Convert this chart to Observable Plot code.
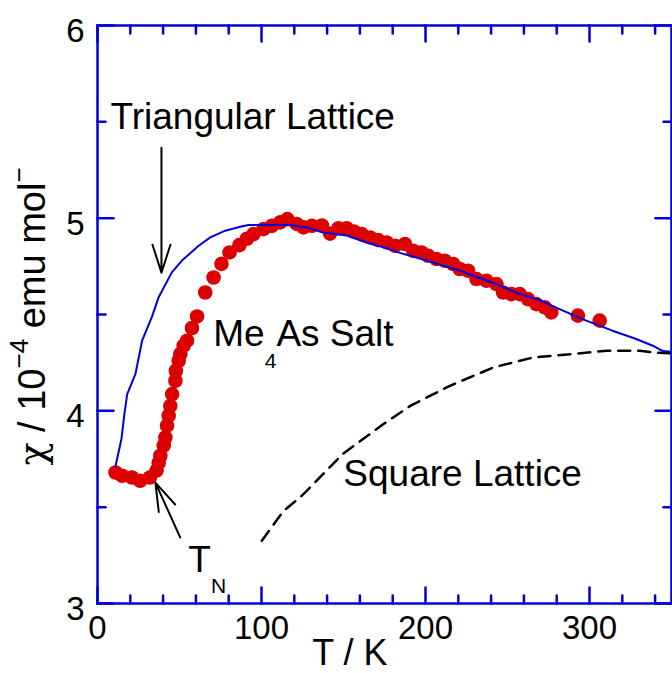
<!DOCTYPE html>
<html><head><meta charset="utf-8">
<script src="https://cdn.jsdelivr.net/npm/d3@7"></script>
<script src="https://cdn.jsdelivr.net/npm/@observablehq/plot@0.6"></script>
<style>body{margin:0;background:#fff} #chart svg{display:block}</style>
</head><body><div id="chart"></div>
<script>
// Me4As salt (red dots): temperature T (K) and chi (1e-4 emu/mol)
const saltT = [11,15,21,26,32,36,37.3,38.3,40.4,41.4,42.4,43.4,44.4,45.5,47.5,47.8,49.5,50.5,52.5,54.6,57.6,60.7,65.7,70.8,75.6,80.5,86.5,91.1,95.1,101.2,106.3,111.4,115.8,121.5,125.6,130.7,136.8,141.8,146.9,152,156.5,161.1,166.2,171.2,176.3,181.4,187.5,192.5,197.6,201.6,206.7,211.8,216.9,220.9,226,231.1,237.2,243.3,247.3,252.4,257.5,262.5,267.6,272.7,276.7,292.9,306.2];
const saltChi = [3.68,3.663,3.654,3.637,3.654,3.69,3.73,3.767,3.82,3.862,3.923,3.975,4.026,4.087,4.156,4.208,4.26,4.295,4.338,4.364,4.43,4.49,4.614,4.692,4.763,4.822,4.86,4.893,4.917,4.943,4.96,4.978,4.995,4.97,4.952,4.96,4.962,4.92,4.948,4.948,4.93,4.917,4.9,4.886,4.874,4.857,4.866,4.831,4.822,4.805,4.788,4.779,4.762,4.736,4.727,4.684,4.675,4.658,4.614,4.606,4.606,4.58,4.554,4.537,4.511,4.494,4.468];

// Triangular lattice model (blue line)
const triT = [10.9,14.6,16.4,18.1,23.1,27.2,33.3,37.3,45.4,51.5,61.7,68.8,77.9,87,92,117,127.6,137.6,152,164,174,184.4,200.7,221,243,257.5,269.6,283.8,298,314,328.5,338.6,344.7,352];
const triChi = [3.71,3.854,3.983,4.087,4.19,4.364,4.49,4.59,4.72,4.78,4.857,4.9,4.935,4.955,4.964,4.964,4.952,4.925,4.91,4.874,4.85,4.82,4.78,4.727,4.658,4.606,4.575,4.52,4.468,4.416,4.373,4.338,4.31,4.305];

// Square lattice model (black dashed line)
const sqT = [100.2,113.4,123.4,127.6,149.5,175,191,214.9,241.3,265.6,289.9,310.2,330.5,340,350];
const sqChi = [3.326,3.48,3.55,3.585,3.776,3.935,4.027,4.13,4.225,4.277,4.295,4.312,4.312,4.302,4.298];

// Axis ticks and labels
const xMajorTicks = [0,100,200,300];
const xMinorTicks = [20,40,60,80,120,140,160,180,220,240,260,280,320,340];
const yMajorTicks = [3,4,5,6];
const yMinorTicks = [3.5,4.5,5.5];
const xTickLabels = ["0","100","200","300"];
const yTickLabels = ["3","4","5","6"];
const xTitle = "T / K";
const yTitle = "χ / 10-4 emu mol-";

// Annotation texts and anchor positions (data units)
const noteTexts = ["Triangular Lattice","Me4As Salt","Square Lattice","TN"];
const noteT = [7.9,70.6,149.9,55.4];
const noteChi = [5.464,4.338,3.611,3.161];
// Arrows: tip position (data), length (px), rotation (deg)
const arrowTipT = [39,35.3];
const arrowTipChi = [4.717,3.627];
const arrowLen = [125,60];
const arrowRot = [180,-24.4];

const BLUE = "#0000dd", RED = "#dd0000";
const FONT = "Liberation Sans, Arial, Helvetica, sans-serif";

const salt = saltT.map((T,i)=>({T, chi: saltChi[i]}));
const tri = triT.map((T,i)=>({T, chi: triChi[i]}));
const sq = sqT.map((T,i)=>({T, chi: sqChi[i]}));
const notes = noteTexts.map((t,i)=>({t, T: noteT[i], chi: noteChi[i]}));
const arrows = arrowTipT.map((T,i)=>({T, chi: arrowTipChi[i], len: arrowLen[i], rot: arrowRot[i]}));

const lineShape = {draw(ctx, l){ ctx.moveTo(0,0); ctx.lineTo(0,-l); }};
const arrowShape = {draw(ctx, l){ ctx.moveTo(0,0); ctx.lineTo(0,-l); ctx.moveTo(-9, 28-l); ctx.lineTo(0,-l); ctx.lineTo(9, 28-l); }};

const tickMarks = (arr, len) => [
  Plot.vector(arr.x, {x: d=>d, y: 3, length: len, rotate: 0, anchor: "start", shape: lineShape, stroke: BLUE, strokeWidth: 2.5}),
  Plot.vector(arr.x, {x: d=>d, y: 6, length: len, rotate: 180, anchor: "start", shape: lineShape, stroke: BLUE, strokeWidth: 2.5}),
  Plot.vector(arr.y, {x: 0, y: d=>d, length: len, rotate: 90, anchor: "start", shape: lineShape, stroke: BLUE, strokeWidth: 2.5}),
  Plot.vector(arr.y, {x: 350, y: d=>d, length: len, rotate: -90, anchor: "start", shape: lineShape, stroke: BLUE, strokeWidth: 2.5})
];

const chart = Plot.plot({
  width: 672, height: 673,
  marginLeft: 97, marginRight: 1, marginTop: 25, marginBottom: 70,
  style: {fontFamily: FONT, background: "white", overflow: "visible"},
  x: {domain: [0,350], axis: null},
  y: {domain: [3,6], axis: null},
  length: {type: "identity"},
  marks: [
    Plot.line(sq, {x: "T", y: "chi", stroke: "black", strokeWidth: 2.5, strokeDasharray: "12,8", clip: true}),
    Plot.dot(salt, {x: "T", y: "chi", r: 7.3, fill: RED, stroke: "none"}),
    Plot.line(tri, {x: "T", y: "chi", stroke: BLUE, strokeWidth: 2, clip: true}),
    ...tickMarks({x: xMajorTicks, y: yMajorTicks}, 16),
    ...tickMarks({x: xMinorTicks, y: yMinorTicks}, 8),
    Plot.frame({stroke: BLUE, strokeWidth: 2.5}),
    Plot.text(xTickLabels, {x: d=>+d, y: 3, dy: 25, text: d=>d, fontSize: 33, fill: "black", textAnchor: "middle", lineAnchor: "middle"}),
    Plot.text(yTickLabels, {x: 0, y: d=>+d, dx: -13, dy: 6, text: d=>d, fontSize: 33, fill: "black", textAnchor: "end", lineAnchor: "middle"}),
    Plot.text([xTitle], {x: 153.9, y: 2.682, text: d=>d, fontSize: 36, fill: "black", textAnchor: "middle", lineAnchor: "bottom"}),
    Plot.text([yTitle], {x: -32.3, y: 4.49, text: d=>d, rotate: -90, fontSize: 38, fill: "black", textAnchor: "middle", lineAnchor: "bottom"}),
    Plot.text(notes, {x: "T", y: "chi", text: "t", fontSize: 37, fill: "black", textAnchor: "start", lineAnchor: "bottom"}),
    Plot.vector(arrows, {x: "T", y: "chi", length: "len", rotate: "rot", anchor: "end", shape: arrowShape, stroke: "black", strokeWidth: 2})
  ]
});

// rich text: sub/superscripts
function rich(content, parts){
  d3.select(chart).selectAll("text").filter(function(){ return this.textContent === content; }).each(function(){
    const el = d3.select(this); el.text("");
    parts.forEach(p => {
      const ts = el.append("tspan").text(p.t);
      if (p.dy) ts.attr("dy", p.dy);
      if (p.fs) ts.attr("font-size", p.fs);
      if (p.ff) ts.style("font-family", p.ff);
    });
  });
}
rich("Me4As Salt", [{t:"Me"},{t:"4", dy:22, fs:21},{t:"As Salt", dy:-22}]);
rich("TN", [{t:"T"},{t:"N", dy:21, fs:21}]);
rich(yTitle, [{t:"χ", ff:"'DejaVu Serif', serif"},{t:" / 10"},{t:"−4", dy:-17, fs:26},{t:" emu mol", dy:17},{t:"−", dy:-17, fs:26}]);

document.getElementById("chart").appendChild(chart);
</script></body></html>
